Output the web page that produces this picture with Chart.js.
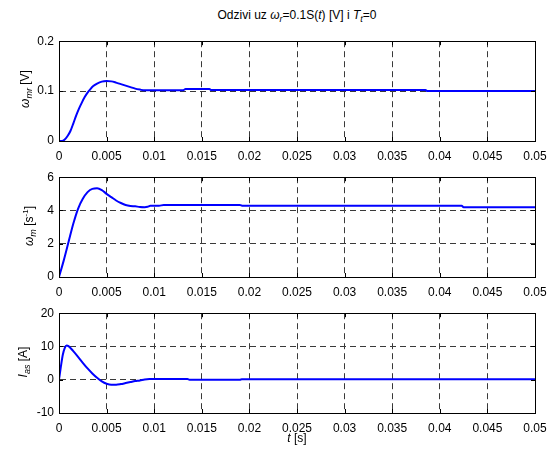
<!DOCTYPE html>
<html>
<head>
<meta charset="utf-8">
<script src="https://cdn.jsdelivr.net/npm/chart.js@4/dist/chart.umd.min.js"></script>
<style>
  html, body { margin: 0; padding: 0; background: #fff; }
  #wrap { position: relative; width: 560px; height: 457px; font-family: "Liberation Sans", Arial, sans-serif; color: #000; }
  canvas { position: absolute; left: 0; }
  .lbl { position: absolute; font-size: 12px; white-space: nowrap; line-height: 1; }
  .rot { transform: translate(-50%, -50%) rotate(-90deg); }
  .ctr { transform: translate(-50%, -50%); }
  sub { font-size: 9px; vertical-align: -3px; }
  sup { font-size: 8px; vertical-align: 5px; }
</style>
</head>
<body>
<div id="wrap">
  <div class="lbl ctr" style="left:297px; top:16px; font-size:12px;">Odzivi uz <i>ω<sub>r</sub></i>=0.1S(<i>t</i>) [V] i <i>T<sub>t</sub></i>=0</div>
  <canvas id="c1" width="560" height="137" style="top:29px"></canvas>
  <canvas id="c2" width="560" height="137" style="top:165px"></canvas>
  <canvas id="c3" width="560" height="137" style="top:301px"></canvas>
  <div class="lbl rot" style="left:26px; top:89px;"><i>ω<sub>mr</sub></i> [V]</div>
  <div class="lbl rot" style="left:30px; top:226px;"><i>ω<sub>m</sub></i> [s<sup>-1</sup>]</div>
  <div class="lbl rot" style="left:24px; top:362px;"><i>I<sub>as</sub></i> [A]</div>
  <div class="lbl ctr" style="left:297px; top:438px;"><i>t</i> [s]</div>
</div>
<script>
// ---- data ----
const xTicks = [0, 0.005, 0.01, 0.015, 0.02, 0.025, 0.03, 0.035, 0.04, 0.045, 0.05];

const tOmegaMr = [0, 0.0003, 0.0006, 0.0009, 0.0012, 0.0015, 0.0018, 0.0021, 0.0024, 0.0027, 0.003, 0.0033, 0.0036, 0.004, 0.0045, 0.005, 0.0055, 0.006, 0.0065, 0.007, 0.0075, 0.008, 0.0085, 0.009, 0.013, 0.0133, 0.0158, 0.016, 0.0385, 0.0387, 0.05];
const omegaMr  = [0, 0.0, 0.003, 0.01, 0.02, 0.035, 0.051, 0.065, 0.077, 0.088, 0.097, 0.104, 0.11, 0.115, 0.119, 0.12, 0.1195, 0.117, 0.114, 0.111, 0.108, 0.105, 0.103, 0.1015, 0.1015, 0.104, 0.104, 0.102, 0.102, 0.1, 0.1];
const yTicksOmegaMr = [0, 0.1, 0.2];

const tOmegaM = [0, 0.0005, 0.001, 0.0015, 0.002, 0.0025, 0.003, 0.0035, 0.004, 0.0045, 0.005, 0.0055, 0.006, 0.0065, 0.007, 0.0075, 0.008, 0.0085, 0.009, 0.0093, 0.0096, 0.0105, 0.011, 0.019, 0.0193, 0.0423, 0.0425, 0.05];
const omegaM  = [0, 1.0, 2.1, 3.2, 4.1, 4.7, 5.1, 5.3, 5.33, 5.22, 5.0, 4.8, 4.6, 4.45, 4.33, 4.27, 4.25, 4.21, 4.2, 4.22, 4.28, 4.28, 4.33, 4.33, 4.28, 4.28, 4.2, 4.2];
const yTicksOmegaM = [0, 2, 4, 6];

const tIas = [0, 0.0002, 0.0004, 0.0006, 0.0008, 0.001, 0.0015, 0.002, 0.0025, 0.003, 0.0035, 0.004, 0.0045, 0.005, 0.0055, 0.006, 0.0065, 0.007, 0.0075, 0.008, 0.0085, 0.009, 0.0095, 0.0135, 0.0137, 0.019, 0.0192, 0.05];
const ias  = [0, 4, 7.5, 9.5, 10.3, 10.1, 8.6, 6.9, 5.1, 3.4, 1.9, 0.6, -0.5, -1.2, -1.5, -1.5, -1.3, -1.0, -0.7, -0.4, -0.2, 0.1, 0.2, 0.2, 0.0, 0.0, 0.15, 0.15];
const yTicksIas = [-10, 0, 10, 20];

// ---- chart setup ----
const FONT = { family: "'Liberation Sans', Arial, sans-serif", size: 12 };

const boxPlugin = {
  id: 'box',
  afterDraw(chart) {
    const { ctx, chartArea: a, scales } = chart;
    ctx.save();
    ctx.strokeStyle = '#000';
    ctx.lineWidth = 1;
    ctx.setLineDash([]);
    const L = 4;
    ctx.beginPath();
    scales.x.ticks.forEach(t => {
      const px = Math.round(scales.x.getPixelForValue(t.value)) + 0.5;
      ctx.moveTo(px, a.bottom); ctx.lineTo(px, a.bottom - L);
      ctx.moveTo(px, a.top); ctx.lineTo(px, a.top + L);
    });
    scales.y.ticks.forEach(t => {
      const py = Math.round(scales.y.getPixelForValue(t.value)) + 0.5;
      ctx.moveTo(a.left, py); ctx.lineTo(a.left + L, py);
      ctx.moveTo(a.right, py); ctx.lineTo(a.right - L, py);
    });
    ctx.stroke();
    ctx.strokeRect(Math.round(a.left) + 0.5, Math.round(a.top) + 0.5, Math.round(a.right - a.left), Math.round(a.bottom - a.top));
    ctx.restore();
  }
};

function fmt(v) { return String(Number(v.toFixed(4))); }

function makeChart(id, tArr, yArr, yTicks) {
  const pts = tArr.map((t, i) => ({ x: t, y: yArr[i] }));
  return new Chart(document.getElementById(id), {
    type: 'line',
    data: { datasets: [{ data: pts, borderColor: '#0000ff', borderWidth: 2, pointRadius: 0, cubicInterpolationMode: 'monotone', fill: false }] },
    options: {
      responsive: false,
      animation: false,
      events: [],
      layout: { padding: { top: 10, right: 25, left: 0, bottom: 0 } },
      plugins: { legend: { display: false }, tooltip: { enabled: false }, title: { display: false } },
      scales: {
        x: {
          type: 'linear', min: xTicks[0], max: xTicks[xTicks.length - 1],
          afterBuildTicks: s => { s.ticks = xTicks.map(v => ({ value: v })); },
          afterFit: s => { s.height = 25; },
          ticks: { color: '#000', font: FONT, padding: 8, maxRotation: 0, autoSkip: false, callback: v => fmt(v) },
          grid: { color: '#3a3a3a', lineWidth: 1, drawTicks: false },
          border: { display: true, color: '#000', dash: [6, 4] }
        },
        y: {
          type: 'linear', min: yTicks[0], max: yTicks[yTicks.length - 1],
          afterBuildTicks: s => { s.ticks = yTicks.map(v => ({ value: v })); },
          afterFit: s => { s.width = 59; },
          ticks: { color: '#000', font: FONT, padding: 5, callback: v => fmt(v) },
          grid: { color: '#3a3a3a', lineWidth: 1, drawTicks: false },
          border: { display: true, color: '#000', dash: [6, 4] }
        }
      }
    },
    plugins: [boxPlugin]
  });
}

makeChart('c1', tOmegaMr, omegaMr, yTicksOmegaMr);
makeChart('c2', tOmegaM, omegaM, yTicksOmegaM);
makeChart('c3', tIas, ias, yTicksIas);
</script>
</body>
</html>
